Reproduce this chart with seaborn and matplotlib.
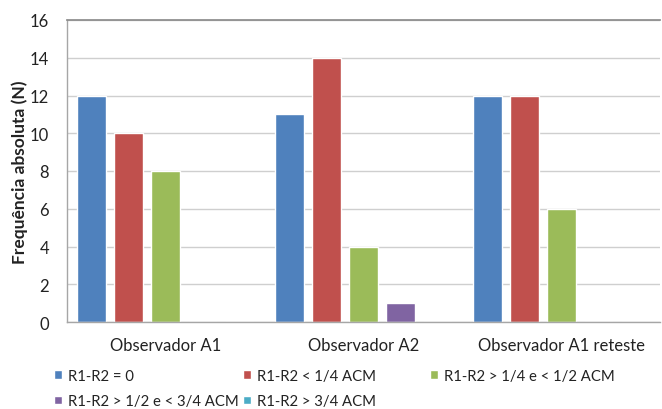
import matplotlib
matplotlib.use("Agg")
import matplotlib.pyplot as plt
import seaborn as sns
import pandas as pd

categories = ["Observador A1", "Observador A2", "Observador A1 reteste"]
series = ["R1-R2 = 0", "R1-R2 < 1/4 ACM", "R1-R2 > 1/4 e < 1/2 ACM",
          "R1-R2 > 1/2 e < 3/4 ACM", "R1-R2 > 3/4 ACM"]
values = {
    "R1-R2 = 0": [12, 11, 12],
    "R1-R2 < 1/4 ACM": [10, 14, 12],
    "R1-R2 > 1/4 e < 1/2 ACM": [8, 4, 6],
    "R1-R2 > 1/2 e < 3/4 ACM": [0, 1, 0],
    "R1-R2 > 3/4 ACM": [0, 0, 0],
}
colors = ["#4F81BD", "#C0504D", "#9BBB59", "#8064A2", "#4BACC6"]
yticks = [0, 2, 4, 6, 8, 10, 12, 14, 16]

rows = []
for s in series:
    for c, v in zip(categories, values[s]):
        rows.append({"cat": c, "serie": s, "val": v})
df = pd.DataFrame(rows)

sns.set_theme(style="white")
plt.rcParams["font.family"] = ["Lato", "DejaVu Sans"]

W, H = 662, 410
fig = plt.figure(figsize=(6.62, 4.10), dpi=100)
ax = fig.add_axes([67 / W, 1 - 323 / H, 593 / W, 302 / H])
sns.barplot(data=df, x="cat", y="val", hue="serie", hue_order=series,
            order=categories, palette=colors, width=0.935, gap=0.216,
            saturation=1, ax=ax, legend=True)

ax.set_xlim(-0.5, 2.5)
ax.set_ylim(0, 16)
ax.set_yticks(yticks)
ax.set_yticklabels([str(t) for t in yticks], fontsize=12, color="#222222")
ax.tick_params(axis="x", labelsize=12, colors="#222222", length=0, pad=11)
ax.tick_params(axis="y", length=0, pad=13)
ax.yaxis.grid(True, color="#CFCFCF", linewidth=1)
ax.set_axisbelow(True)
ax.set_xlabel("")
ax.set_ylabel("")
fig.text(20 / W, 1 - 172 / H, "Frequência absoluta (N)", rotation=90,
         ha="center", va="center", fontsize=12.5, fontweight="bold", color="#222222")
for side in ["left", "bottom"]:
    ax.spines[side].set_color("#A6A6A6")
    ax.spines[side].set_linewidth(1)
ax.spines["right"].set_visible(False)
ax.spines["top"].set_color("#8C8C8C")

handles, labels = ax.get_legend_handles_labels()
ax.get_legend().remove()

col_groups = [[0, 3], [1, 4], [2]]
col_x = [54, 243, 430]
for idxs, x0 in zip(col_groups, col_x):
    fig.legend([handles[i] for i in idxs], [labels[i] for i in idxs],
               loc="upper left", bbox_to_anchor=(x0 / W, 1 - 370 / H),
               frameon=False, fontsize=10.7, handlelength=0.52, handleheight=0.52,
               handletextpad=0.45, labelspacing=0.75, borderaxespad=0, borderpad=0,
               labelcolor="#222222")

fig.savefig("out.png", dpi=100)
